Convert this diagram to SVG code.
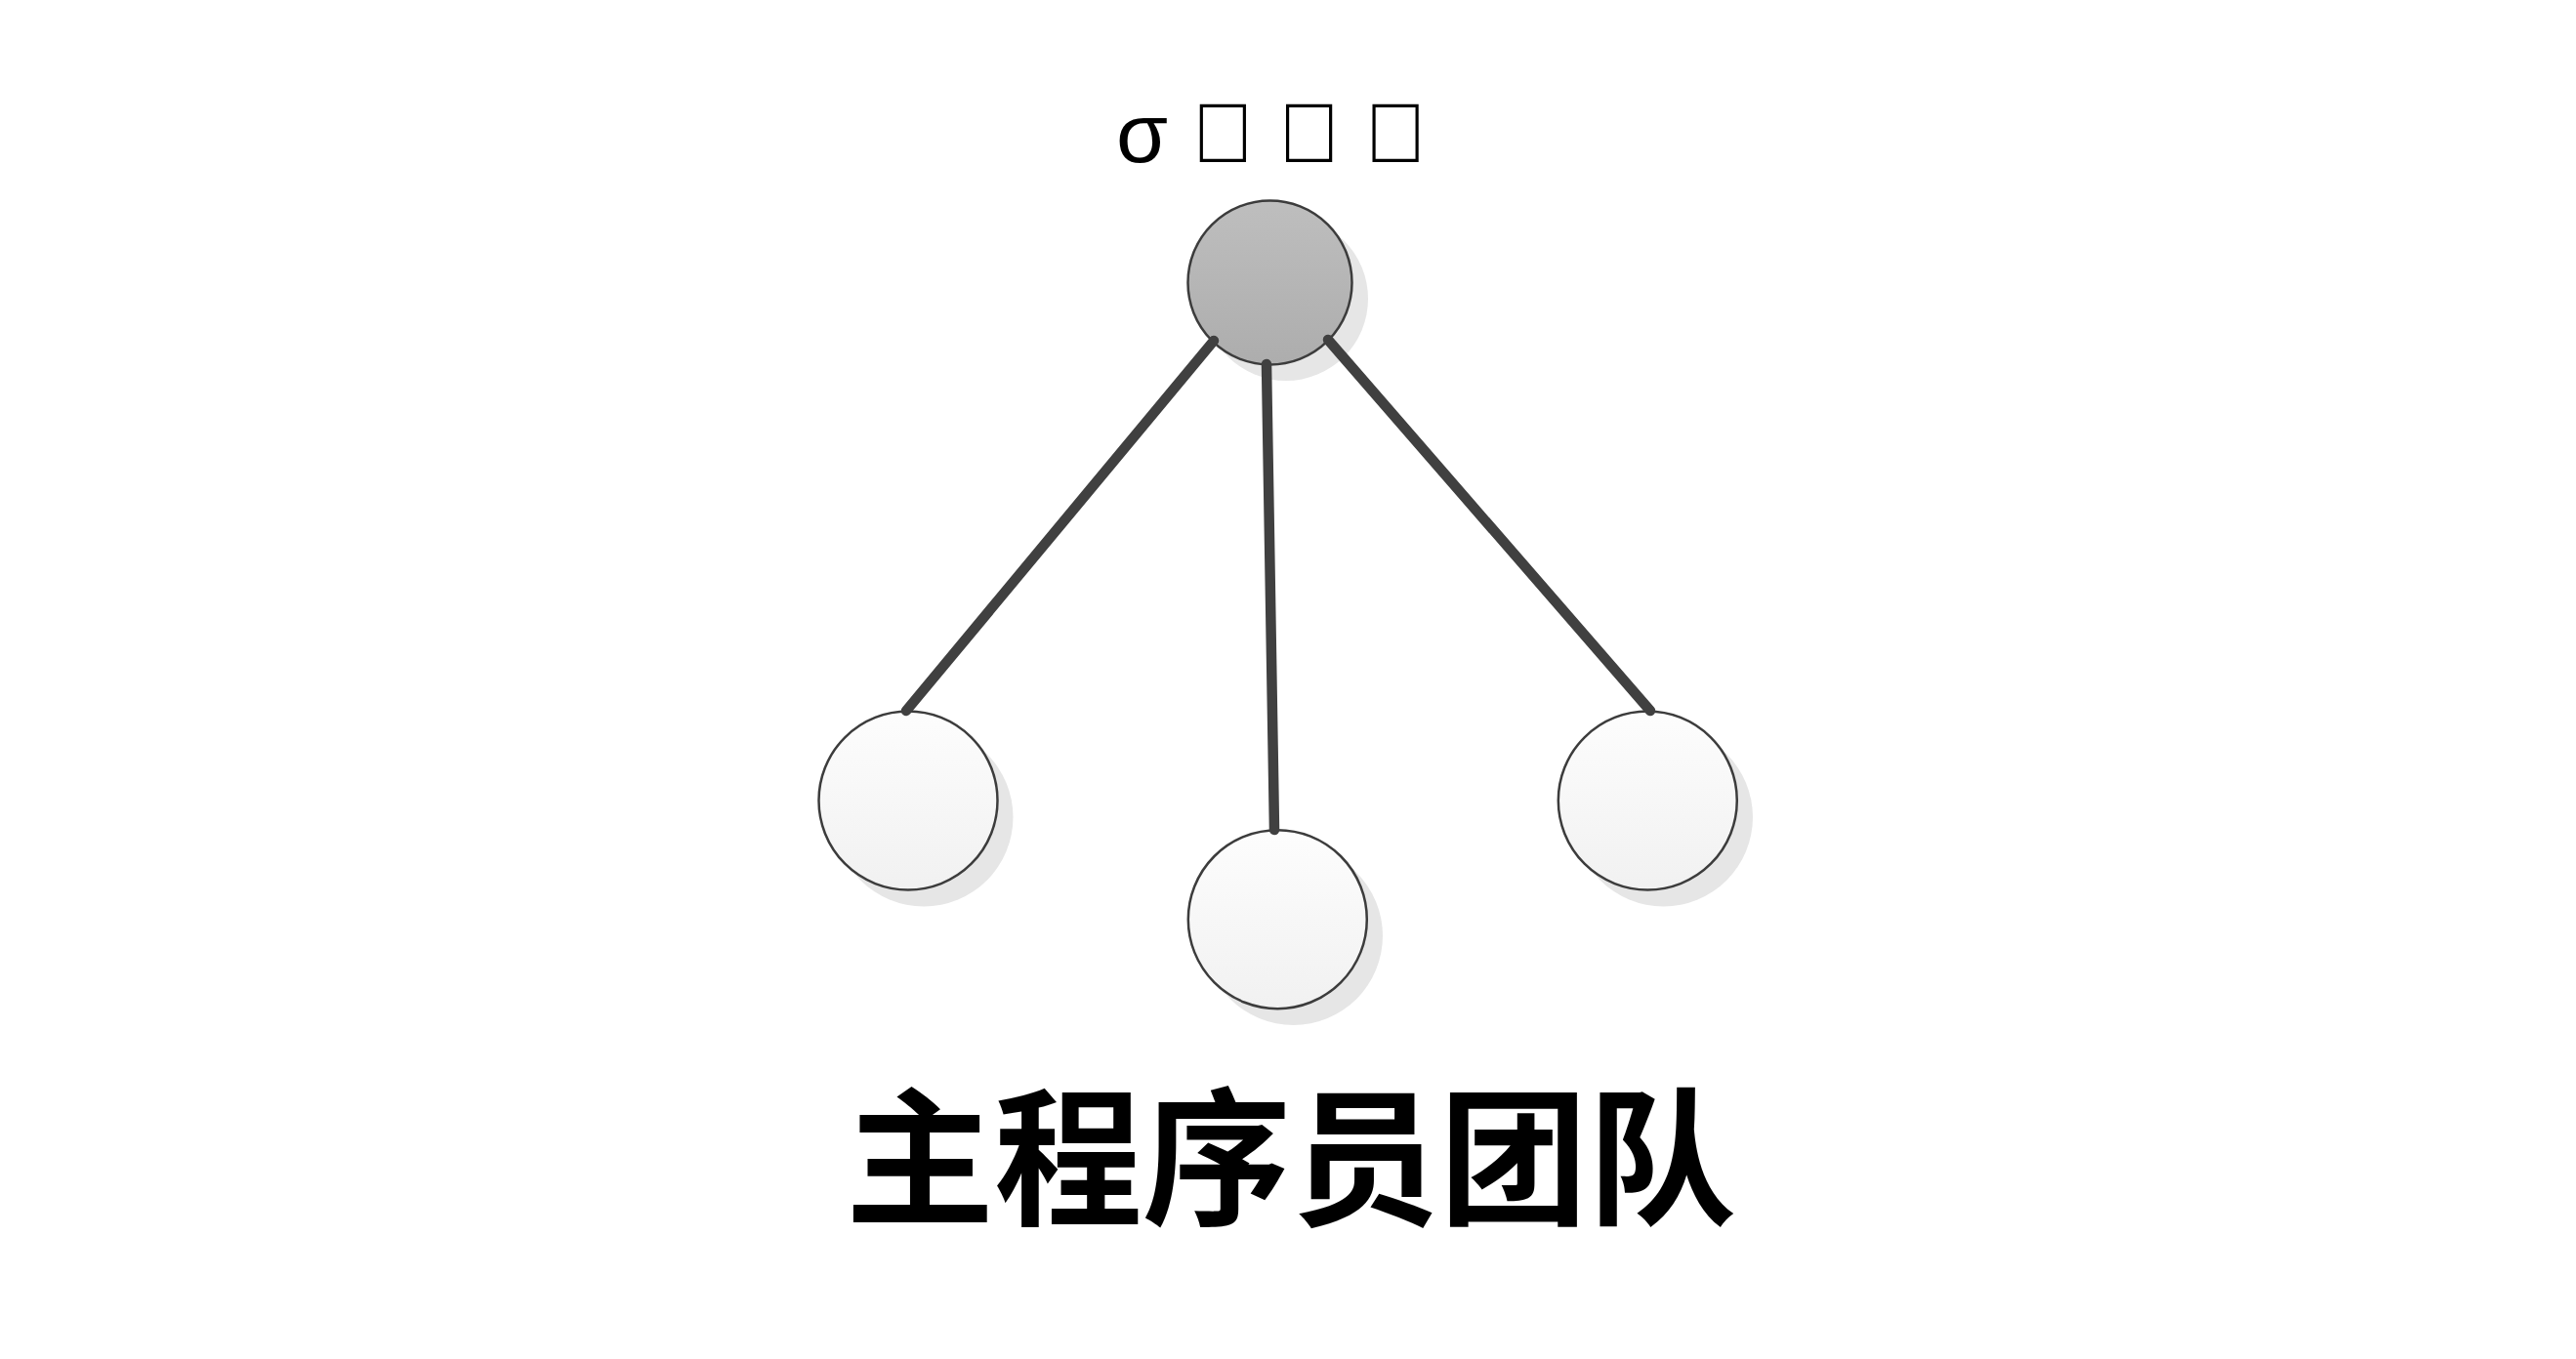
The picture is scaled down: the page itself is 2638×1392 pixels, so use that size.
<svg xmlns="http://www.w3.org/2000/svg" width="2638" height="1392" viewBox="0 0 2638 1392">
<defs>
<linearGradient id="gTop" x1="0" y1="0" x2="0" y2="1">
<stop offset="0" stop-color="#bebebe"/>
<stop offset="1" stop-color="#adadad"/>
</linearGradient>
<linearGradient id="gLeaf" x1="0" y1="0" x2="0" y2="1">
<stop offset="0" stop-color="#fdfdfd"/>
<stop offset="1" stop-color="#f1f1f1"/>
</linearGradient>
<style>
.shadow{fill:#e6e6e6}
.node{stroke:#3c3c3c;stroke-width:2.5}
.conn{stroke:#404040;stroke-width:10.5;stroke-linecap:round;fill:none}
.title{font-family:"Liberation Sans","Noto Sans CJK SC",sans-serif;font-size:86px;fill:#000}
.caption{font-family:"Noto Sans CJK SC",sans-serif;font-size:152px;font-weight:600;fill:#000}
</style>
</defs>
<rect width="2638" height="1392" fill="#ffffff"/>
<g id="node-root">
<circle class="shadow" cx="1317" cy="306" r="84"/>
<circle class="node" cx="1300.5" cy="289.5" r="84" fill="url(#gTop)"/>
</g>
<g id="node-left">
<circle class="shadow" cx="946" cy="837" r="91.5"/>
<circle class="node" cx="930" cy="820" r="91.5" fill="url(#gLeaf)"/>
</g>
<g id="node-middle">
<circle class="shadow" cx="1324.5" cy="958.5" r="91.5"/>
<circle class="node" cx="1308.3" cy="941.7" r="91.5" fill="url(#gLeaf)"/>
</g>
<g id="node-right">
<circle class="shadow" cx="1703.5" cy="837" r="91.5"/>
<circle class="node" cx="1687.3" cy="820" r="91.5" fill="url(#gLeaf)"/>
</g>
<g id="connectors">
<line class="conn" x1="1243" y1="349" x2="928" y2="728"/>
<line class="conn" x1="1297" y1="373" x2="1305" y2="850"/>
<line class="conn" x1="1360" y1="348" x2="1690" y2="728"/>
</g>
<text class="title" x="1143" y="166">σ &#xE000; &#xE001; &#xE002;</text>
<text class="caption" x="1322" y="1243" text-anchor="middle">主程序员团队</text>
</svg>
